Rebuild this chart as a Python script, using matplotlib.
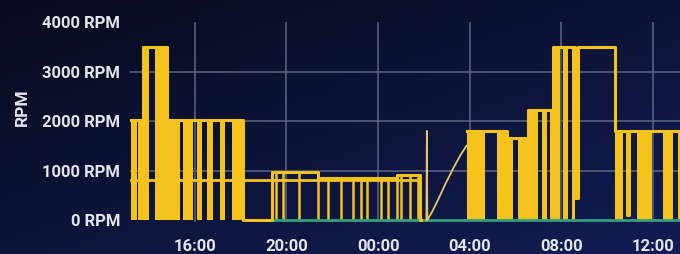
import numpy as np
import matplotlib
matplotlib.use("Agg")
import matplotlib.pyplot as plt

nan = float("nan")

# hours since midnight of day 1 (24 = 00:00 next day)
tick_hours = [16, 20, 24, 28, 32, 36]
tick_labels = ["16:00", "20:00", "00:00", "04:00", "08:00", "12:00"]
rpm_ticks = [0, 1000, 2000, 3000, 4000]
rpm_labels = ["0 RPM", "1000 RPM", "2000 RPM", "3000 RPM", "4000 RPM"]
rpm_grid = [1000, 2000, 3000]

# main fan: step outline
main_t = [13.21, 13.73, 14.78, 18.10, 19.36, 21.37, 24.82, 25.83, 25.86, 27.88,
          29.62, 30.54, 31.63, 32.59, 32.72, 34.34, 34.86, 34.95, 37.18]
main_rpm = [2020, 3500, 2020, 0, 970, 850, 910, 0, nan, 1800,
            1650, 2220, 3500, 450, 3500, 1800, 100, 1800, 1800]

# periods where the fan was cycling fast (look like solid blocks)
burst_start = [13.21, 13.51, 13.73, 14.25, 14.78, 15.48, 16.09, 16.52, 17.09, 17.62,
               27.88, 29.19, 29.62, 30.10, 30.54, 31.15, 31.50, 31.63, 32.07, 32.46,
               34.34, 35.30, 36.44, 37.09]
burst_end = [13.47, 13.73, 13.99, 14.78, 15.34, 15.91, 16.31, 16.79, 17.31, 18.10,
             28.66, 29.62, 29.89, 30.54, 30.98, 31.37, 31.63, 31.94, 32.29, 32.59,
             34.69, 35.96, 36.88, 37.18]
burst_rpm = [2020, 2020, 3500, 3500, 2020, 2020, 2020, 2020, 2020, 2020,
             1800, 1800, 1650, 1650, 2220, 2220, 2220, 3500, 3500, 3500,
             1800, 1800, 1800, 1800]

# short drops to 0 during the night
dip_t = [19.54, 19.84, 20.54, 21.37, 21.81, 22.38, 22.90, 23.25, 23.51, 24.12,
         24.43, 24.82, 25.00, 25.39, 25.74]
dip_rpm = [970, 970, 970, 850, 850, 850, 850, 850, 850, 850,
           850, 910, 910, 910, 910]

# second fan around 800 rpm
base_t = [13.21, 25.83]
base_rpm = [800, 800]

# spike + ramp before 04:00
ramp_t = [26.11, 26.13, 26.15, 26.35, 26.61, 26.96, 27.31, 27.62, 27.86]
ramp_rpm = [0, 1800, 0, 160, 400, 750, 1070, 1330, 1500]

# third fan, idle
green_t = [19.36, 37.18]
green_rpm = [0, 0]

YEL = "#f6c21c"
TXT = "#e4e6ee"

fig = plt.figure(figsize=(6.8, 2.54), dpi=100)

# dark navy background, bluer towards bottom right
bg = fig.add_axes([0, 0, 1, 1], zorder=-1)
yy, xx = np.mgrid[0:1:60j, 0:1:120j]
top = np.array([0.03, 0.04, 0.11])
bot = np.array([0.07, 0.12, 0.34])
mix = np.clip(0.5 * yy + 0.45 * xx, 0, 1)[..., None]
bg.imshow(top * (1 - mix) + bot * mix, aspect="auto", extent=[0, 1, 0, 1], origin="upper")
bg.axis("off")

ax = fig.add_axes([130 / 680, 32 / 254, 550 / 680, 200 / 254])
ax.set_facecolor("none")
ax.set_xlim(13.17, 37.18)
ax.set_ylim(-40, 4000)

for h in tick_hours:
    ax.axvline(h, color="#5c6384", lw=1.1, zorder=1)
for r in rpm_grid:
    ax.axhline(r, color="#5c6384", lw=1.1, zorder=1)

left = np.array(burst_start)
width = np.array(burst_end) - left
ax.bar(left, burst_rpm, width=width, align="edge", color=YEL, lw=0, zorder=3)
ax.plot(base_t, base_rpm, color=YEL, lw=2.0, zorder=4)
ax.vlines(dip_t, 0, dip_rpm, color=YEL, lw=1.8, zorder=4)
ax.plot(green_t, green_rpm, color="#32a07c", lw=2.0, zorder=4)
ax.plot(ramp_t, ramp_rpm, color="#e9c56a", lw=1.3, zorder=4)
ax.step(main_t, main_rpm, where="post", color=YEL, lw=2.2, zorder=5)

ax.set_xticks(tick_hours, tick_labels)
ax.set_yticks(rpm_ticks, rpm_labels)
ax.tick_params(length=0, colors=TXT, labelsize=12)
ax.tick_params(axis="y", pad=7)
ax.tick_params(axis="x", pad=12)
for lab in ax.get_xticklabels() + ax.get_yticklabels():
    lab.set_fontfamily("Roboto")
    lab.set_fontweight("bold")
for s in ax.spines.values():
    s.set_visible(False)

fig.text(22 / 680, 1 - 107 / 254, "RPM", rotation=90, ha="center", va="center",
         color=TXT, fontsize=12.5, fontweight="bold", family="Roboto")

fig.savefig("out.png", dpi=100)
